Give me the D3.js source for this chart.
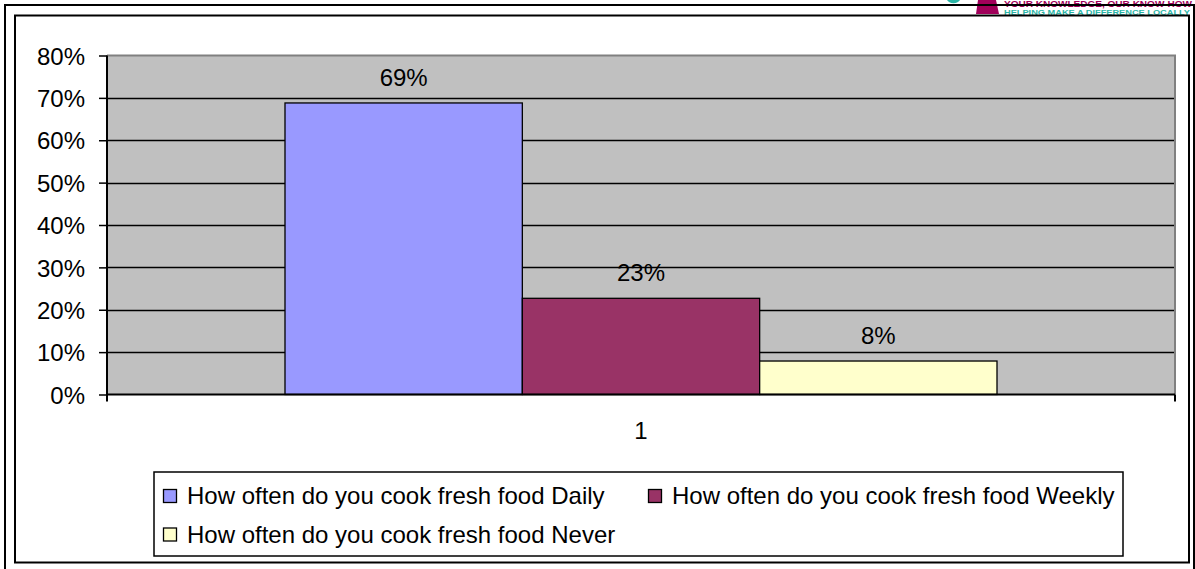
<!DOCTYPE html>
<html>
<head>
<meta charset="utf-8">
<script src="https://cdn.jsdelivr.net/npm/d3@7"></script>
<style>
  html, body { margin: 0; padding: 0; background: #fff; }
  svg { display: block; font-family: "Liberation Sans", Arial, sans-serif; }
</style>
</head>
<body>
<svg id="chart" width="1195" height="569"></svg>
<script>
// ---- data ----
const categories = ["1"];
const seriesNames = [
  "How often do you cook fresh food Daily",
  "How often do you cook fresh food Weekly",
  "How often do you cook fresh food Never"
];
const seriesValues = [0.688, 0.227, 0.079];
const seriesLabels = ["69%", "23%", "8%"];
const seriesColors = ["#9999ff", "#993366", "#ffffcc"];
const yTicks = [0, 0.1, 0.2, 0.3, 0.4, 0.5, 0.6, 0.7, 0.8];

const svg = d3.select("#chart");
const W = 1195, H = 569;
const FONT = 24;

// ---- logo fragment (top right, partially hidden) ----
const logo = svg.append("g");
logo.append("path")
  .attr("d", "M947,0 A7,5 0 0 0 960,0 Z")
  .attr("fill", "#2bb5a6");
logo.append("path")
  .attr("d", "M978,0 L996,0 L999,14 L976,14 Z")
  .attr("fill", "#a0005a");
logo.append("text")
  .attr("x", 1004).attr("y", 7)
  .attr("font-size", 8.5).attr("font-weight", "bold")
  .attr("textLength", 188).attr("lengthAdjust", "spacingAndGlyphs")
  .attr("fill", "#a0005a")
  .text("YOUR KNOWLEDGE, OUR KNOW-HOW");
logo.append("text")
  .attr("x", 1004).attr("y", 14.5)
  .attr("font-size", 7.5).attr("font-weight", "bold")
  .attr("textLength", 186).attr("lengthAdjust", "spacingAndGlyphs")
  .attr("fill", "#2bb5a6")
  .text("HELPING MAKE A DIFFERENCE LOCALLY");

// ---- frames ----
svg.append("path")
  .attr("d", `M5,${H + 2} L5,5 L1194,5 L1194,${H + 2}`)
  .attr("fill", "none").attr("stroke", "#000").attr("stroke-width", 2);
svg.append("rect")
  .attr("x", 15).attr("y", 15.5).attr("width", 1174).attr("height", 547)
  .attr("fill", "#fff").attr("stroke", "#000").attr("stroke-width", 2);

// ---- plot area ----
const plot = { left: 107, right: 1175, top: 55.5, bottom: 394.5 };
const y = d3.scaleLinear().domain([0, 0.8]).range([plot.bottom, plot.top]);
const x0 = d3.scaleBand().domain(categories).range([plot.left, plot.right])
  .paddingInner(0).paddingOuter(0.25);
const x1 = d3.scaleBand().domain(seriesNames).range([0, x0.bandwidth()]).padding(0);

svg.append("rect")
  .attr("x", plot.left).attr("y", plot.top)
  .attr("width", plot.right - plot.left).attr("height", plot.bottom - plot.top)
  .attr("fill", "#c0c0c0");

// gridlines
svg.append("g")
  .selectAll("line")
  .data(yTicks.filter(t => t > 0 && t < 0.8))
  .join("line")
  .attr("x1", plot.left).attr("x2", plot.right)
  .attr("y1", d => Math.round(y(d)) + 0.5).attr("y2", d => Math.round(y(d)) + 0.5)
  .attr("stroke", "#000").attr("stroke-width", 1.3);

// plot area border (top/right gray)
svg.append("path")
  .attr("d", `M${plot.left},${plot.top} L${plot.right},${plot.top} L${plot.right},${plot.bottom}`)
  .attr("fill", "none").attr("stroke", "#808080").attr("stroke-width", 2);

// bars
const rows = seriesNames.map((s, i) => ({ cat: categories[0], name: s, value: seriesValues[i], label: seriesLabels[i], color: seriesColors[i] }));
const barG = svg.append("g");
barG.selectAll("rect")
  .data(rows)
  .join("rect")
  .attr("x", d => x0(d.cat) + x1(d.name))
  .attr("y", d => y(d.value))
  .attr("width", x1.bandwidth())
  .attr("height", d => y(0) - y(d.value))
  .attr("fill", d => d.color)
  .attr("stroke", "#000").attr("stroke-width", 1.3);

// data labels
barG.selectAll("text")
  .data(rows)
  .join("text")
  .attr("x", d => x0(d.cat) + x1(d.name) + x1.bandwidth() / 2)
  .attr("y", d => y(d.value) - 17)
  .attr("text-anchor", "middle")
  .attr("font-size", FONT).attr("fill", "#000")
  .text(d => d.label);

// y axis
const yAxis = d3.axisLeft(y).tickValues(yTicks).tickFormat(d3.format(".0%")).tickSize(8).tickPadding(14);
const gy = svg.append("g").attr("transform", `translate(${plot.left},0)`).call(yAxis);
gy.select(".domain").remove();
gy.selectAll(".tick line").attr("stroke", "#000").attr("stroke-width", 1.5);
gy.selectAll(".tick text")
  .attr("font-size", FONT).attr("font-family", "Liberation Sans, Arial, sans-serif")
  .attr("fill", "#000").attr("dy", "0.36em");
svg.append("line")
  .attr("x1", plot.left).attr("x2", plot.left)
  .attr("y1", plot.top).attr("y2", plot.bottom + 7)
  .attr("stroke", "#000").attr("stroke-width", 2);

// x axis
svg.append("line")
  .attr("x1", plot.left).attr("x2", plot.right)
  .attr("y1", plot.bottom).attr("y2", plot.bottom)
  .attr("stroke", "#000").attr("stroke-width", 2);
svg.append("line")
  .attr("x1", plot.right).attr("x2", plot.right)
  .attr("y1", plot.bottom).attr("y2", plot.bottom + 7)
  .attr("stroke", "#000").attr("stroke-width", 2);
svg.append("g").selectAll("text")
  .data(categories)
  .join("text")
  .attr("x", d => x0(d) + x0.bandwidth() / 2)
  .attr("y", 439)
  .attr("text-anchor", "middle")
  .attr("font-size", FONT).attr("fill", "#000")
  .text(d => d);

// legend
const legend = svg.append("g");
legend.append("rect")
  .attr("x", 154).attr("y", 472).attr("width", 969).attr("height", 84)
  .attr("fill", "#fff").attr("stroke", "#000").attr("stroke-width", 1.5);
const legendPos = [
  { x: 163, y: 504 },
  { x: 648, y: 504 },
  { x: 163, y: 542.5 }
];
const items = legend.selectAll("g.item")
  .data(rows)
  .join("g")
  .attr("class", "item")
  .attr("transform", (d, i) => `translate(${legendPos[i].x},${legendPos[i].y})`);
items.append("rect")
  .attr("x", 0.5).attr("y", -14.5).attr("width", 13).attr("height", 13)
  .attr("fill", d => d.color).attr("stroke", "#000").attr("stroke-width", 1.3);
items.append("text")
  .attr("x", 24).attr("y", 0)
  .attr("font-size", FONT).attr("fill", "#000")
  .text(d => d.name);
</script>
</body>
</html>
